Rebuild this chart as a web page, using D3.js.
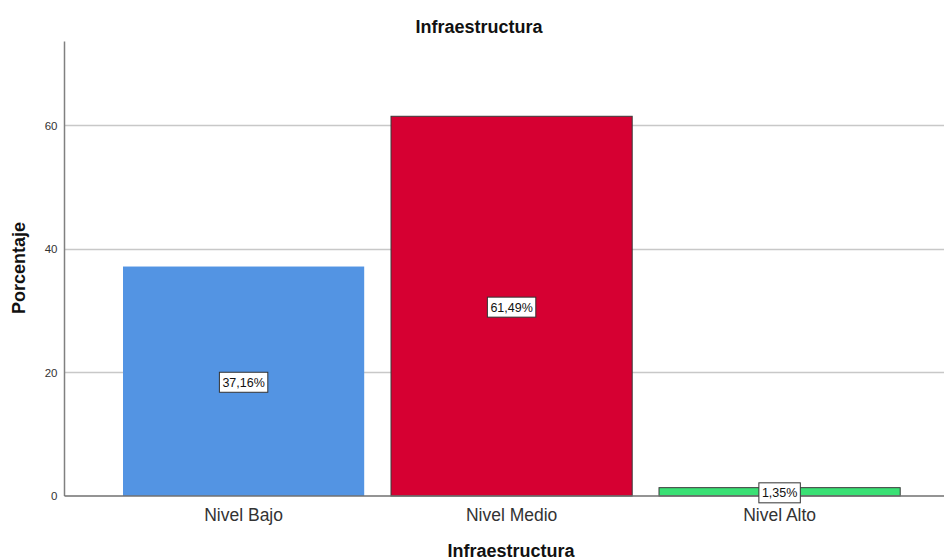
<!DOCTYPE html>
<html><head><meta charset="utf-8">
<script src="https://cdn.jsdelivr.net/npm/d3@7"></script>
<style>body{margin:0;background:#fff}svg{display:block;font-family:Arial,"Liberation Sans",sans-serif}</style>
</head><body><svg id="c" width="944" height="560"></svg>
<script>
const categories = ["Nivel Bajo", "Nivel Medio", "Nivel Alto"];
const values = [37.16, 61.49, 1.35];
const valueLabels = ["37,16%", "61,49%", "1,35%"];
const colors = ["#5394e3", "#d60032", "#3ae074"];
const yTicks = [0, 20, 40, 60];
const chartTitle = "Infraestructura";
const xTitle = "Infraestructura";
const yTitle = "Porcentaje";

const svg = d3.select("#c");
const m = {left: 64.5, top: 41.5, bottom: 496, right: 944};

const y = d3.scaleLinear().domain([0, 73.6]).range([m.bottom, m.top]);
const x = d3.scaleBand().domain(categories).range([109.6, 913.6]).paddingInner(0.1).paddingOuter(0.05);

// gridlines
svg.append("g").selectAll("line").data(yTicks.filter(d => d > 0)).join("line")
  .attr("x1", m.left).attr("x2", m.right)
  .attr("y1", d => Math.round(y(d)) + 0.5).attr("y2", d => Math.round(y(d)) + 0.5)
  .attr("stroke", "#c8c8c8").attr("stroke-width", 1.5);

// bars
svg.append("g").selectAll("rect").data(values).join("rect")
  .attr("x", (d, i) => x(categories[i]))
  .attr("width", x.bandwidth())
  .attr("y", d => y(d))
  .attr("height", d => y(0) - y(d))
  .attr("fill", (d, i) => colors[i])
  .attr("stroke", (d, i) => i === 0 ? "none" : "#3a3a3a")
  .attr("stroke-width", 1);

// y axis
const yAxis = d3.axisLeft(y).tickValues(yTicks).tickSize(0).tickPadding(7);
const gy = svg.append("g").attr("transform", `translate(${m.left},0)`).call(yAxis);
gy.select(".domain").remove();
gy.selectAll("text").attr("font-size", 11.5).attr("fill", "#333").attr("font-family", "Arial, 'Liberation Sans', sans-serif");
svg.append("line").attr("x1", m.left).attr("x2", m.left).attr("y1", m.top).attr("y2", m.bottom)
  .attr("stroke", "#808080").attr("stroke-width", 1.5);

// x axis
const xAxis = d3.axisBottom(x).tickSize(0).tickPadding(13);
const gx = svg.append("g").attr("transform", `translate(0,${m.bottom})`).call(xAxis);
gx.select(".domain").remove();
gx.selectAll("text").attr("font-size", 17.5).attr("fill", "#333").attr("font-family", "Arial, 'Liberation Sans', sans-serif");
svg.append("line").attr("x1", m.left).attr("x2", m.right).attr("y1", m.bottom).attr("y2", m.bottom)
  .attr("stroke", "#707070").attr("stroke-width", 1.5);

// value labels
const lg = svg.append("g").selectAll("g").data(values).join("g")
  .attr("transform", (d, i) => `translate(${x(categories[i]) + x.bandwidth() / 2},${(y(d) + y(0)) / 2 + 1})`);
lg.append("text").text((d, i) => valueLabels[i])
  .attr("text-anchor", "middle").attr("dy", "0.35em")
  .attr("font-size", 12.5).attr("fill", "#111");
lg.each(function() {
  const g = d3.select(this);
  const bb = g.select("text").node().getBBox();
  g.insert("rect", "text")
    .attr("x", bb.x - 3).attr("y", -10).attr("width", bb.width + 6).attr("height", 20)
    .attr("fill", "#fff").attr("stroke", "#333").attr("stroke-width", 1);
});

// titles
svg.append("text").attr("x", 479).attr("y", 33).attr("text-anchor", "middle")
  .attr("font-size", 18).attr("font-weight", "bold").attr("fill", "#111").text(chartTitle);
svg.append("text").attr("x", 511).attr("y", 557).attr("text-anchor", "middle")
  .attr("font-size", 18).attr("font-weight", "bold").attr("fill", "#111").text(xTitle);
svg.append("text").attr("transform", "translate(25,268) rotate(-90)").attr("text-anchor", "middle")
  .attr("font-size", 18).attr("font-weight", "bold").attr("fill", "#111").text(yTitle);
</script></body></html>
